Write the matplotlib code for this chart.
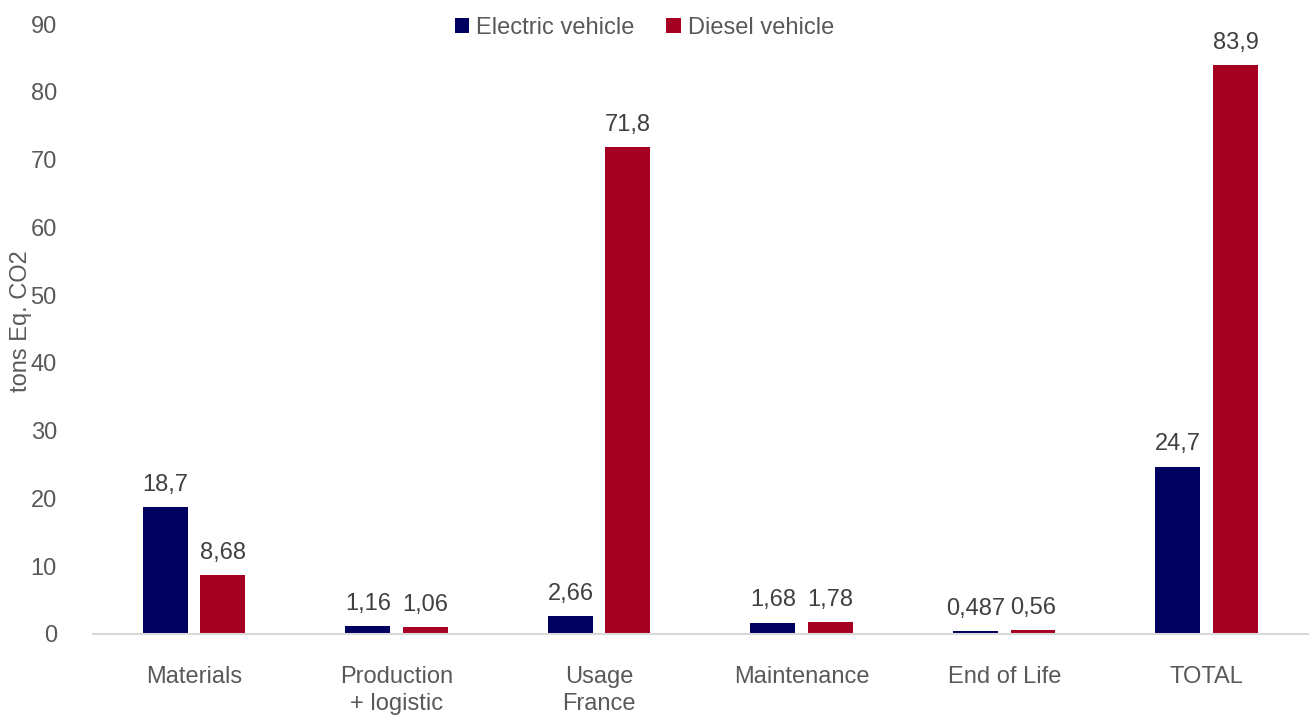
import matplotlib.pyplot as plt
import numpy as np

categorias = ["Materials", "Production\n+ logistic", "Usage\nFrance", "Maintenance", "End of Life", "TOTAL"]
eletrico = [18.7, 1.16, 2.66, 1.68, 0.487, 24.7]
diesel = [8.68, 1.06, 71.8, 1.78, 0.56, 83.9]
rotulos_eletrico = ["18,7", "1,16", "2,66", "1,68", "0,487", "24,7"]
rotulos_diesel = ["8,68", "1,06", "71,8", "1,78", "0,56", "83,9"]

azul = "#000060"
vermelho = "#A50021"
cinza = "#595959"

plt.rcParams['font.family'] = ['Liberation Sans', 'DejaVu Sans']

fig = plt.figure(figsize=(13.11, 7.15), dpi=100)
ax = fig.add_axes([0.0709, 0.1133, 0.9268, 0.8531])

x = np.arange(len(categorias))
largura = 0.222
desloc = 0.142

b1 = ax.bar(x - desloc, eletrico, largura, color=azul, label="Electric vehicle")
b2 = ax.bar(x + desloc, diesel, largura, color=vermelho, label="Diesel vehicle")

for barras, rotulos in [(b1, rotulos_eletrico), (b2, rotulos_diesel)]:
    for b, r in zip(barras, rotulos):
        ax.annotate(r, (b.get_x() + b.get_width() / 2, b.get_height()),
                    xytext=(0, 8), textcoords="offset points",
                    ha="center", va="bottom", fontsize=17, color="#404040")

ax.set_xlim(-0.5, 5.5)
ax.set_ylim(0, 90)
ax.set_yticks(range(0, 91, 10))
ax.set_xticks(x)
ax.set_xticklabels(categorias, va="top", linespacing=1.3)
ax.tick_params(axis="x", length=0, pad=23, labelsize=17, labelcolor=cinza)
ax.tick_params(axis="y", length=0, pad=26, labelsize=17, labelcolor=cinza)

for lado in ["top", "right", "left"]:
    ax.spines[lado].set_visible(False)
ax.spines["bottom"].set_color("#D9D9D9")
ax.spines["bottom"].set_linewidth(1.5)

ax.set_ylabel("tons Eq. CO2", fontsize=17, color=cinza)
ax.yaxis.set_label_coords(-0.050, 0.513)

fig.legend(loc="center", bbox_to_anchor=(0.4916, 0.961), ncol=2, frameon=False,
           fontsize=17, labelcolor=cinza, handlelength=0.6, handleheight=0.6,
           handletextpad=0.3, columnspacing=1.35)

fig.savefig("out.png", dpi=100)
